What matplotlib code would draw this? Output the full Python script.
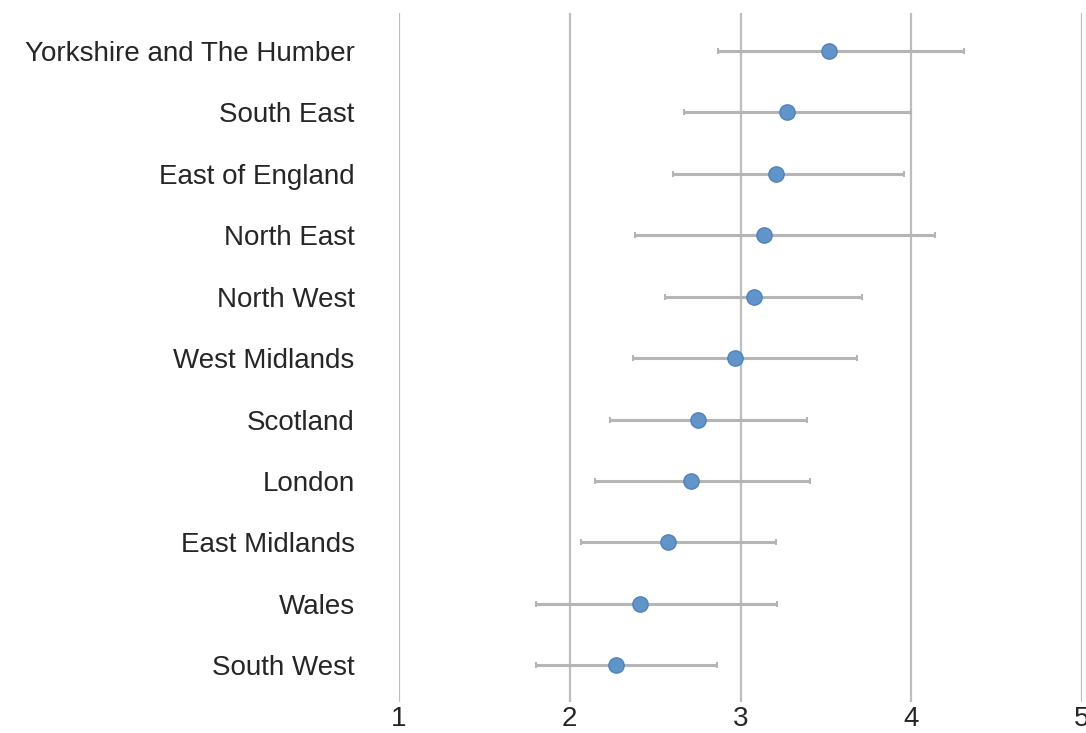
import matplotlib
matplotlib.use("Agg")
import matplotlib.pyplot as plt
import numpy as np

# regions ordered top to bottom as in the chart
regions = ["Yorkshire and The Humber", "South East", "East of England",
           "North East", "North West", "West Midlands", "Scotland",
           "London", "East Midlands", "Wales", "South West"]
estimate = [3.52, 3.27, 3.21, 3.14, 3.08, 2.965, 2.75, 2.71, 2.575, 2.41, 2.27]
lower = [2.87, 2.67, 2.605, 2.38, 2.56, 2.37, 2.235, 2.15, 2.065, 1.80, 1.80]
upper = [4.31, 4.00, 3.955, 4.14, 3.71, 3.685, 3.39, 3.405, 3.21, 3.215, 2.865]
xticks = [1, 2, 3, 4, 5]

plt.rcParams['font.family'] = ['Liberation Sans', 'DejaVu Sans']

fig = plt.figure(figsize=(10.86, 7.33), dpi=100)
ax = fig.add_axes([399 / 1086, 31 / 733, (1082 - 399) / 1086, (720 - 31) / 733])

y = np.arange(len(regions))
est = np.array(estimate)
err = np.vstack([est - np.array(lower), np.array(upper) - est])

for xv in xticks:
    ax.axvline(xv, color='#bdbdbd', linewidth=1.6, zorder=0)

ax.errorbar(est, y, xerr=err, fmt='none', ecolor='#b5b5b5', elinewidth=2.2,
            capsize=2.5, capthick=1.5, zorder=2)
ax.plot(est, y, 'o', color='#6194c8', markeredgecolor='#4f82b8',
        markeredgewidth=1, markersize=11, zorder=3)

ax.set_xlim(1, 5)
ax.set_ylim(len(regions) - 1 + 0.6, -0.62)
ax.set_xticks(xticks)
ax.set_xticklabels([str(v) for v in xticks])
ax.set_yticks(y)
ax.set_yticklabels(regions)
ax.tick_params(axis='both', length=0, labelsize=20, colors='#262626')
ax.tick_params(axis='y', pad=32)
ax.tick_params(axis='x', pad=3)
for s in ax.spines.values():
    s.set_visible(False)

fig.savefig("out.png", dpi=100)
